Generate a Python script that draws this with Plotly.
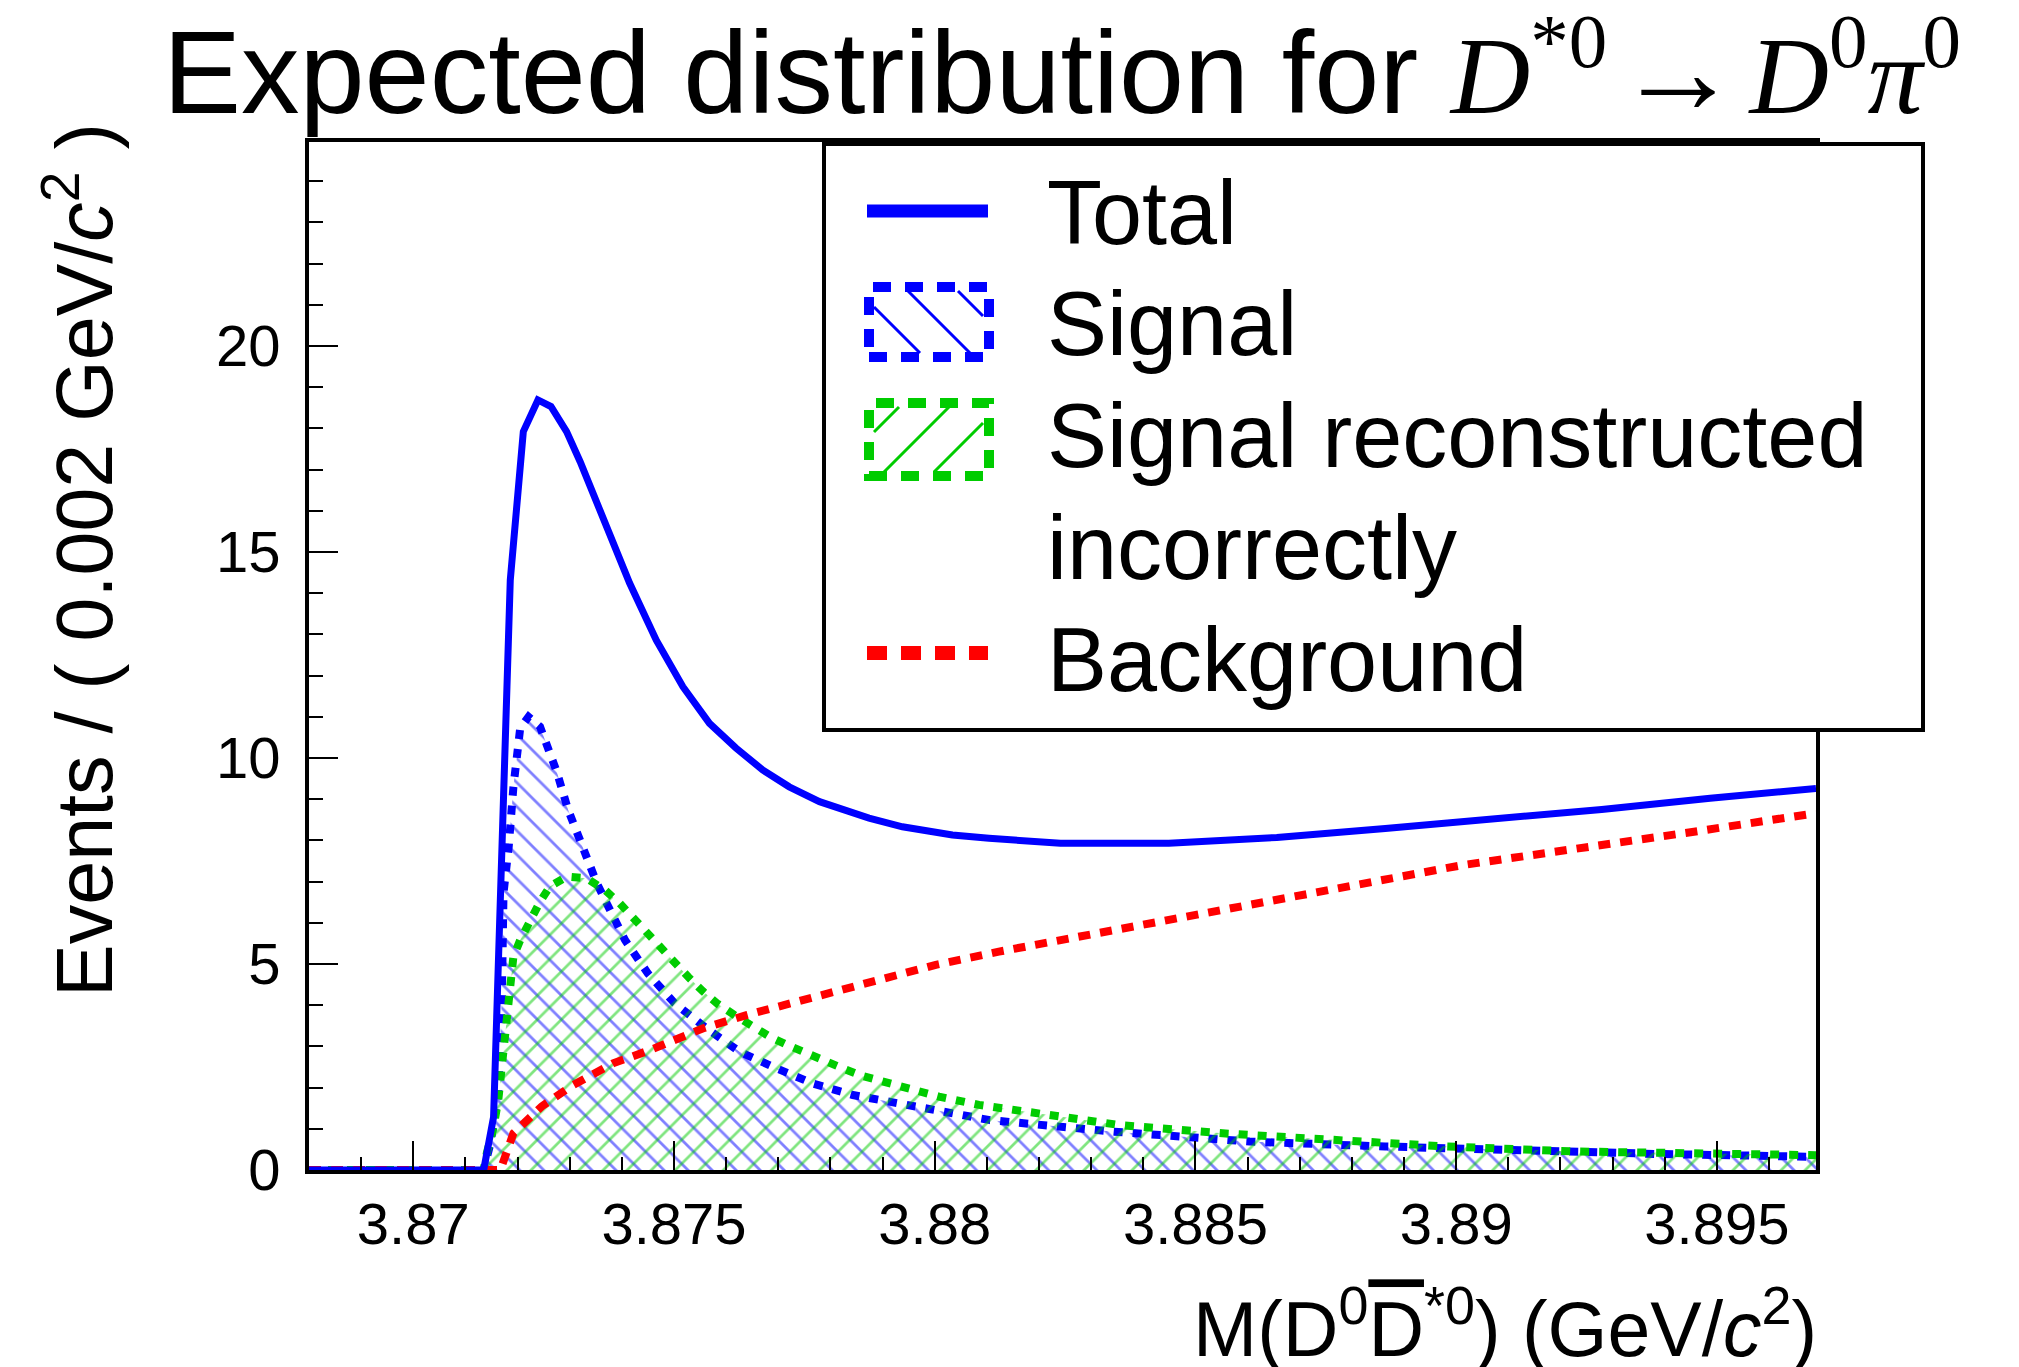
import plotly.graph_objects as go

W, H = 2019, 1367

# ---------------- data ----------------
mass_total = [3.868, 3.87135, 3.87154, 3.87186, 3.87211, 3.87239, 3.87264, 3.87294, 3.8732,
              3.87364, 3.87415, 3.87466, 3.87517, 3.87568, 3.87619, 3.8767, 3.87721, 3.87779,
              3.87874, 3.87938, 3.88034, 3.88104, 3.88241, 3.88449, 3.88656, 3.88864, 3.89072,
              3.89279, 3.89487, 3.8969]
events_total = [0, 0, 1.29, 14.32, 17.92, 18.69, 18.53, 17.92, 17.19,
                15.78, 14.24, 12.86, 11.73, 10.84, 10.24, 9.71, 9.30, 8.94,
                8.54, 8.33, 8.13, 8.05, 7.93, 7.93, 8.07, 8.29, 8.51,
                8.75, 9.02, 9.26]

mass_signal = [3.868, 3.87135, 3.87148, 3.87163, 3.8717, 3.87173, 3.87183, 3.87192, 3.87205,
               3.87221, 3.87243, 3.87275, 3.87297, 3.87323, 3.87352, 3.87371, 3.87406, 3.8745,
               3.87501, 3.87562, 3.87626, 3.87696, 3.87766, 3.87843, 3.87957, 3.88066, 3.88106,
               3.88344, 3.88604, 3.88864, 3.89124, 3.89383, 3.8969]
events_signal = [0, 0, 0.65, 1.86, 4.29, 6.72, 7.85, 9.3, 10.72,
                 11.0, 10.76, 9.67, 8.74, 7.85, 6.96, 6.47, 5.58, 4.77,
                 4.05, 3.44, 2.87, 2.47, 2.10, 1.82, 1.54, 1.29, 1.21,
                 0.93, 0.69, 0.57, 0.46, 0.39, 0.32]

mass_misrec = [3.868, 3.87135, 3.87141, 3.87154, 3.87163, 3.87167, 3.8717, 3.87173, 3.87179,
               3.87183, 3.87186, 3.87192, 3.87205, 3.87224, 3.87243, 3.87262, 3.87294, 3.87332,
               3.87367, 3.87396, 3.87422, 3.87447, 3.87473, 3.87498, 3.87527, 3.87556, 3.87584,
               3.87616, 3.87651, 3.87683, 3.87718, 3.87753, 3.87823, 3.87862, 3.87938, 3.88008,
               3.88085, 3.88199, 3.88355, 3.88552, 3.8876, 3.88968, 3.89227, 3.89435, 3.8969]
events_misrec = [0, 0, 0.41, 1.05, 1.70, 2.18, 2.67, 3.24, 3.72,
                 4.17, 4.65, 5.18, 5.58, 6.07, 6.51, 6.88, 7.12, 7.08,
                 6.80, 6.47, 6.11, 5.74, 5.38, 5.02, 4.69, 4.33, 4.03,
                 3.76, 3.48, 3.24, 3.03, 2.83, 2.47, 2.28, 2.02, 1.78,
                 1.58, 1.38, 1.09, 0.89, 0.73, 0.58, 0.45, 0.40, 0.36]

mass_bkg = [3.868, 3.87167, 3.87192, 3.87246, 3.87301, 3.87383, 3.87454, 3.87556, 3.87639,
            3.87747, 3.87875, 3.88002, 3.88123, 3.88568, 3.89012, 3.89456, 3.8969]
events_bkg = [0, 0, 0.89, 1.54, 2.02, 2.59, 2.91, 3.44, 3.76,
              4.13, 4.57, 4.98, 5.30, 6.35, 7.40, 8.21, 8.66]

x_tickvals = [3.87, 3.875, 3.88, 3.885, 3.89, 3.895]
x_ticktext = ["3.87", "3.875", "3.88", "3.885", "3.89", "3.895"]
y_tickvals = [0, 5, 10, 15, 20]
y_ticktext = ["0", "5", "10", "15", "20"]

legend_labels = ["Total", "Signal", "Signal reconstructed", "incorrectly", "Background"]

# ---------------- style ----------------
BLUE = "#0000ff"
GREEN = "#00cc00"
RED = "#ff0000"
SANS = "Liberation Sans"

# the page body adds an 8px offset; positions below are given in screen pixels
OFF = 8
PLOT_L, PLOT_R, PLOT_T, PLOT_B = 309, 1816, 142, 1170


def fx(px):
    return (px - OFF) / W


def fy(py):
    return 1 - (py - OFF) / H


fig = go.Figure()

fig.add_trace(go.Scatter(
    x=mass_signal, y=events_signal, mode="lines", name="Signal",
    line=dict(color=BLUE, width=8, dash="9px,10px"),
    fill="tozeroy", fillcolor="rgba(0,0,0,0)",
    fillpattern=dict(shape="\\", fgcolor=BLUE, bgcolor="rgba(0,0,0,0)", size=17, solidity=0.16),
))
fig.add_trace(go.Scatter(
    x=mass_misrec, y=events_misrec, mode="lines", name="Signal reconstructed incorrectly",
    line=dict(color=GREEN, width=8, dash="9px,10px"),
    fill="tozeroy", fillcolor="rgba(0,0,0,0)",
    fillpattern=dict(shape="/", fgcolor=GREEN, bgcolor="rgba(0,0,0,0)", size=17, solidity=0.16),
))
fig.add_trace(go.Scatter(
    x=mass_bkg, y=events_bkg, mode="lines", name="Background",
    line=dict(color=RED, width=8, dash="12px,10px"),
))
fig.add_trace(go.Scatter(
    x=mass_total, y=events_total, mode="lines", name="Total",
    line=dict(color=BLUE, width=7),
))

axis_common = dict(
    showline=True, mirror=True, linecolor="black", linewidth=4,
    showgrid=False, zeroline=False, automargin=False,
    ticks="inside", ticklen=29, tickwidth=2, tickcolor="black",
    tickmode="array",
    tickfont=dict(family=SANS, size=58, color="black"),
)

fig.update_xaxes(
    **axis_common,
    range=[3.868, 3.8969],
    domain=[fx(PLOT_L), fx(PLOT_R)],
    tickvals=x_tickvals, ticktext=x_ticktext,
    ticklabelstandoff=0,
    minor=dict(tickmode="linear", tick0=3.87, dtick=0.001, ticks="inside",
               ticklen=13, tickwidth=2, tickcolor="black", showgrid=False),
)
fig.update_yaxes(
    **axis_common,
    range=[0, 24.95],
    domain=[fy(PLOT_B), fy(PLOT_T)],
    tickvals=y_tickvals, ticktext=y_ticktext,
    ticklabelstandoff=13,
    minor=dict(tickmode="linear", tick0=0, dtick=1, ticks="inside",
               ticklen=14, tickwidth=2, tickcolor="black", showgrid=False),
)

annotations = []

# title
title_text = ("Expected distribution for "
              "<span style=\"font-family:'Liberation Serif';font-size:110px\"><i>D</i><sup>*0</sup>\u200a"
              "<span style=\"font-size:124px\">→</span>\u200a"
              "<i>D</i><sup>0</sup><i>π</i><sup>0</sup></span>")
annotations.append(dict(
    text=title_text, x=fx(1062), y=fy(69), xref="paper", yref="paper",
    xanchor="center", yanchor="middle", showarrow=False,
    font=dict(family=SANS, size=117, color="black"),
))

# y-axis title
annotations.append(dict(
    text="Events / ( 0.002 GeV/<i>c</i><sup>2</sup> )",
    x=fx(79), y=fy(560), xref="paper", yref="paper",
    xanchor="center", yanchor="middle", textangle=-90, showarrow=False,
    font=dict(family=SANS, size=79, color="black"),
))

# x-axis title
annotations.append(dict(
    text=("M(D<sup>0</sup><span style=\"text-decoration:overline\">D</span>"
          "<sup>*0</sup>) (GeV/<i>c</i><sup>2</sup>)"),
    x=fx(1819), y=fy(1357 + 0.212 * 77 + 1), xref="paper", yref="paper",
    xanchor="right", yanchor="bottom", showarrow=False,
    font=dict(family=SANS, size=77, color="black"),
))

# legend texts
legend_centers = [212.5, 324.5, 436, 548, 660.5]
for lab, cy in zip(legend_labels, legend_centers):
    annotations.append(dict(
        text=lab, x=fx(1045), y=fy(cy), xref="paper", yref="paper",
        xanchor="left", yanchor="middle", showarrow=False,
        font=dict(family=SANS, size=90, color="black"),
    ))

fig.update_layout(annotations=annotations)

# ---------------- legend box and keys (decoration) ----------------
shapes = []
shapes.append(dict(type="rect", xref="paper", yref="paper",
                   x0=fx(824), x1=fx(1923), y0=fy(730), y1=fy(144),
                   line=dict(color="black", width=4), fillcolor="white", layer="above"))
# Total key
shapes.append(dict(type="line", xref="paper", yref="paper",
                   x0=fx(867), x1=fx(988), y0=fy(211), y1=fy(211),
                   line=dict(color=BLUE, width=13), layer="above"))
# Background key
shapes.append(dict(type="line", xref="paper", yref="paper",
                   x0=fx(867), x1=fx(988), y0=fy(653), y1=fy(653),
                   line=dict(color=RED, width=14, dash="20px,14px"), layer="above"))


def hatch_segments(x0, x1, y0, y1, spacing, direction):
    segs = []
    if direction == "\\":
        c = (y0 - x1) + spacing / 2
        while c < y1 - x0:
            xs = max(x0, y0 - c)
            xe = min(x1, y1 - c)
            if xs < xe:
                segs.append((xs, xs + c, xe, xe + c))
            c += spacing
    else:
        c = (x0 + y0) + spacing / 2
        while c < x1 + y1:
            xs = max(x0, c - y1)
            xe = min(x1, c - y0)
            if xs < xe:
                segs.append((xs, c - xs, xe, c - xe))
            c += spacing
    return segs


for (col, ytop, ybot, direc) in [(BLUE, 287, 357, "\\"), (GREEN, 403, 476, "/")]:
    for (ax0, ay0, ax1, ay1) in hatch_segments(874, 983, ytop + 4, ybot - 4, 50, direc):
        shapes.append(dict(type="line", xref="paper", yref="paper",
                           x0=fx(ax0), y0=fy(ay0), x1=fx(ax1), y1=fy(ay1),
                           line=dict(color=col, width=3), layer="above"))
    shapes.append(dict(type="rect", xref="paper", yref="paper",
                       x0=fx(869), x1=fx(989), y0=fy(ybot), y1=fy(ytop),
                       line=dict(color=col, width=10, dash="18px,14px"),
                       fillcolor="rgba(0,0,0,0)", layer="above"))

fig.update_layout(
    shapes=shapes,
    width=W, height=H,
    margin=dict(l=0, r=0, t=0, b=0, pad=0, autoexpand=False),
    paper_bgcolor="white", plot_bgcolor="white",
    showlegend=False,
)

fig.write_html("out.html")
